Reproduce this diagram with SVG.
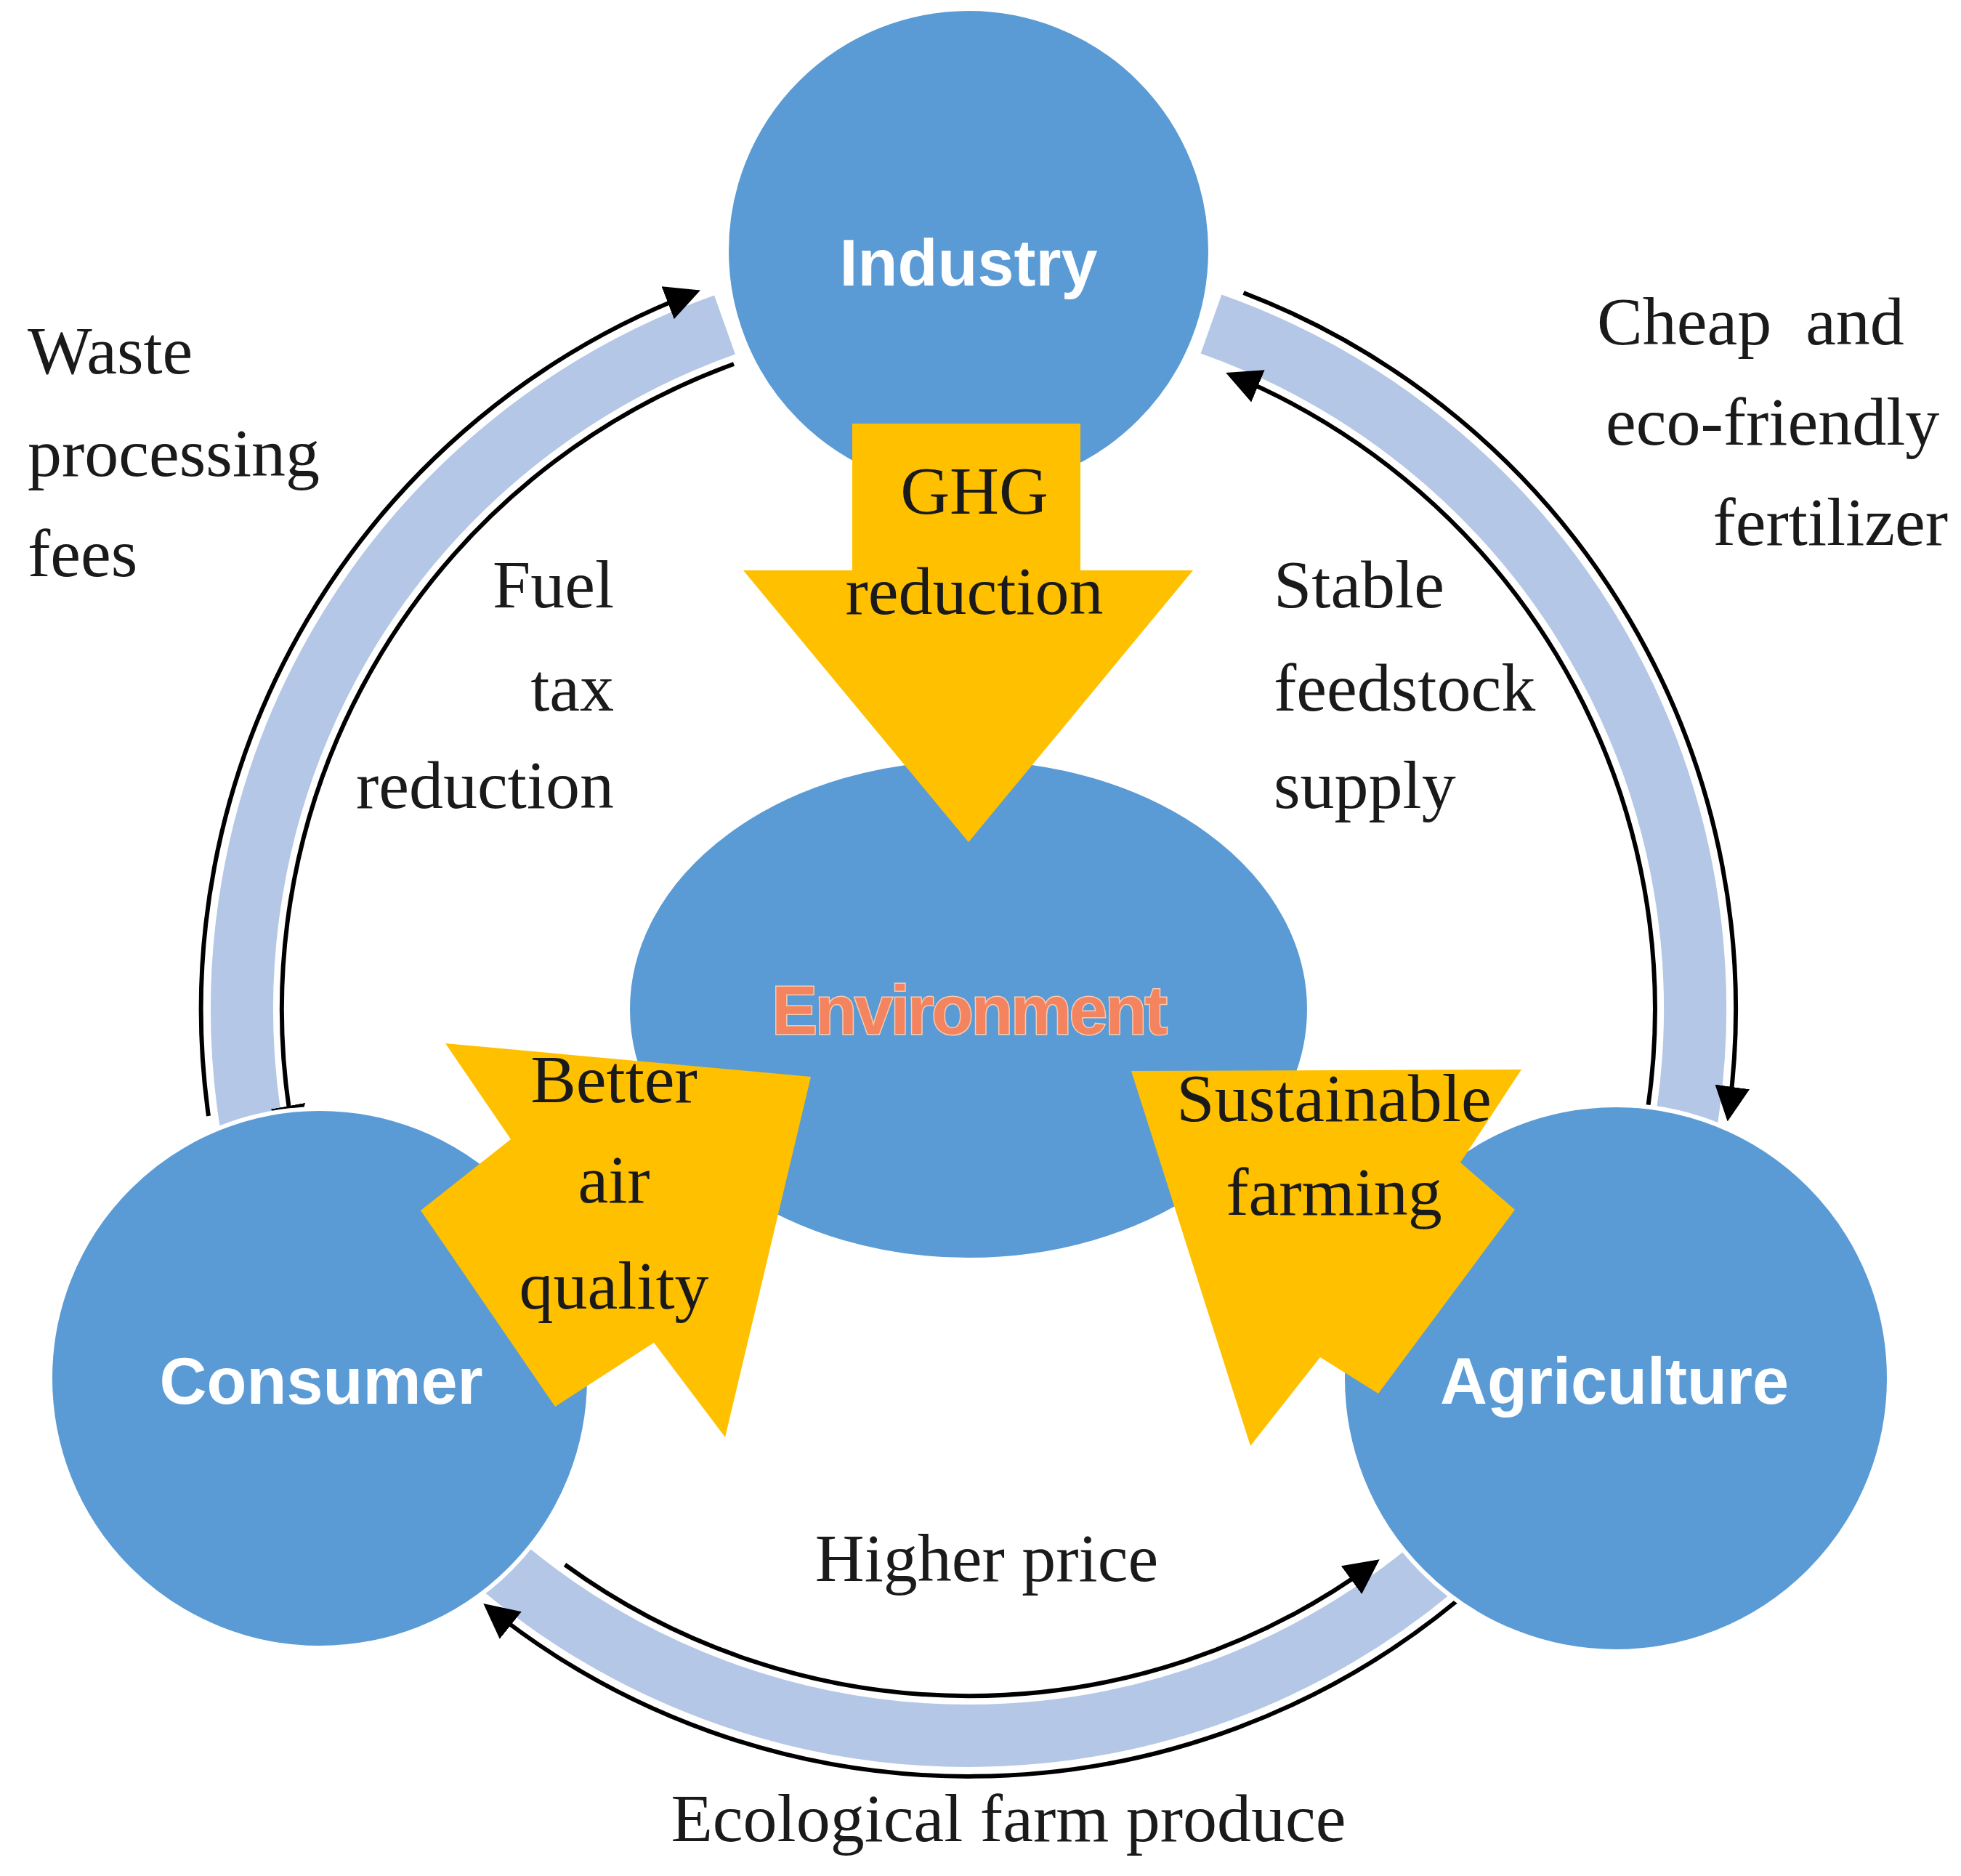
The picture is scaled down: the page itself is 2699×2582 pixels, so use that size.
<svg xmlns="http://www.w3.org/2000/svg" width="2699" height="2582" viewBox="0 0 2699 2582">
<style>
.band{fill:none;stroke:#B4C7E7;stroke-width:86}
.conn{fill:none;stroke:#000;stroke-width:6}
.node{fill:#5B9BD5;stroke:#fff;stroke-width:6}
.yel{fill:#FFC000}
.lbl{font-family:"Liberation Serif","Times New Roman",serif;font-size:94px;fill:#1a1a1a}
.nlbl{font-family:"Liberation Sans",Arial,sans-serif;font-size:90px;font-weight:bold;fill:#fff;text-anchor:middle}
</style>
<defs>
<marker id="ah" viewBox="0 0 10 10" refX="8" refY="5" markerWidth="8" markerHeight="8" markerUnits="strokeWidth" orient="auto">
<path d="M0,0 L10,5 L0,10 z" fill="#000"/>
</marker>
</defs>
<rect width="2699" height="2582" fill="#fff"/>
<g id="bands">
<path class="band" d="M997.5,447 A1000,1000 0 0 0 347.3,1557.5"/>
<path class="band" d="M1667,446 A1000,1000 0 0 1 2318.4,1559"/>
<path class="band" d="M695.6,2159.5 A1000,1000 0 0 0 1970.4,2159.5"/>
</g>
<g id="connectors">
<path class="conn" marker-end="url(#ah)" d="M287,1536 A1056,1056 0 0 1 955,403"/>
<path class="conn" marker-end="url(#ah)" d="M1010,501 A945,945 0 0 0 403.5,1560"/>
<path class="conn" marker-end="url(#ah)" d="M1711.5,403 A1056,1056 0 0 1 2379,1534"/>
<path class="conn" marker-end="url(#ah)" d="M2268,1525.5 A945,945 0 0 0 1696,516.6"/>
<path class="conn" marker-end="url(#ah)" d="M777.5,2153.5 A945,945 0 0 0 1891,2152"/>
<path class="conn" marker-end="url(#ah)" d="M2004.7,2203.8 A1056,1056 0 0 1 672.8,2213"/>
</g>
<g id="industry"><circle class="node" cx="1333" cy="345" r="333"/></g>
<g id="consumer"><circle class="node" cx="440" cy="1897" r="371"/></g>
<g id="agriculture"><circle class="node" cx="2224" cy="1897" r="376"/></g>
<g id="environment"><ellipse class="node" cx="1333" cy="1389" rx="469" ry="345"/></g>
<g id="ghg-arrow"><polygon class="yel" points="1173,583 1487,583 1487,785 1642,785 1333,1159 1023,785 1173,785"/></g>
<g id="air-arrow"><polygon class="yel" points="613,1436 1116,1482 998,1978 900,1848 764,1936 579,1666 703,1568"/></g>
<g id="farm-arrow"><polygon class="yel" points="1557,1474 2094,1472 2010,1600 2085,1665 1897,1918 1817,1868 1721,1990"/></g>
<g id="labels">
<text class="nlbl" x="1333" y="393">Industry</text>
<text class="nlbl" x="442" y="1932">Consumer</text>
<text class="nlbl" x="2222" y="1932">Agriculture</text>
<text x="1333" y="1423" text-anchor="middle" font-family="Liberation Sans,Arial,sans-serif" font-size="94" font-weight="bold" letter-spacing="-3" fill="#F4845F" stroke="#F8CBAD" stroke-width="3" paint-order="stroke">Environment</text>
<text class="lbl" x="1341" y="707" text-anchor="middle">GHG</text>
<text class="lbl" x="1341" y="845" text-anchor="middle">reduction</text>
<text class="lbl" x="38" y="514">Waste</text>
<text class="lbl" x="38" y="655">processing</text>
<text class="lbl" x="38" y="793">fees</text>
<text class="lbl" x="845" y="836" text-anchor="end">Fuel</text>
<text class="lbl" x="845" y="978" text-anchor="end">tax</text>
<text class="lbl" x="845" y="1112" text-anchor="end">reduction</text>
<text class="lbl" x="1753" y="836">Stable</text>
<text class="lbl" x="1753" y="978">feedstock</text>
<text class="lbl" x="1753" y="1112">supply</text>
<text class="lbl" x="2198" y="474" xml:space="preserve">Cheap  and</text>
<text class="lbl" x="2210" y="612">eco-friendly</text>
<text class="lbl" x="2681" y="750" text-anchor="end">fertilizer</text>
<text class="lbl" x="845" y="1517" text-anchor="middle">Better</text>
<text class="lbl" x="845" y="1655" text-anchor="middle">air</text>
<text class="lbl" x="845" y="1801" text-anchor="middle">quality</text>
<text class="lbl" x="1836" y="1543" text-anchor="middle">Sustainable</text>
<text class="lbl" x="1836" y="1672" text-anchor="middle">farming</text>
<text class="lbl" x="1358" y="2176" text-anchor="middle">Higher price</text>
<text class="lbl" x="1388" y="2534" text-anchor="middle">Ecological farm produce</text>
</g>
</svg>
